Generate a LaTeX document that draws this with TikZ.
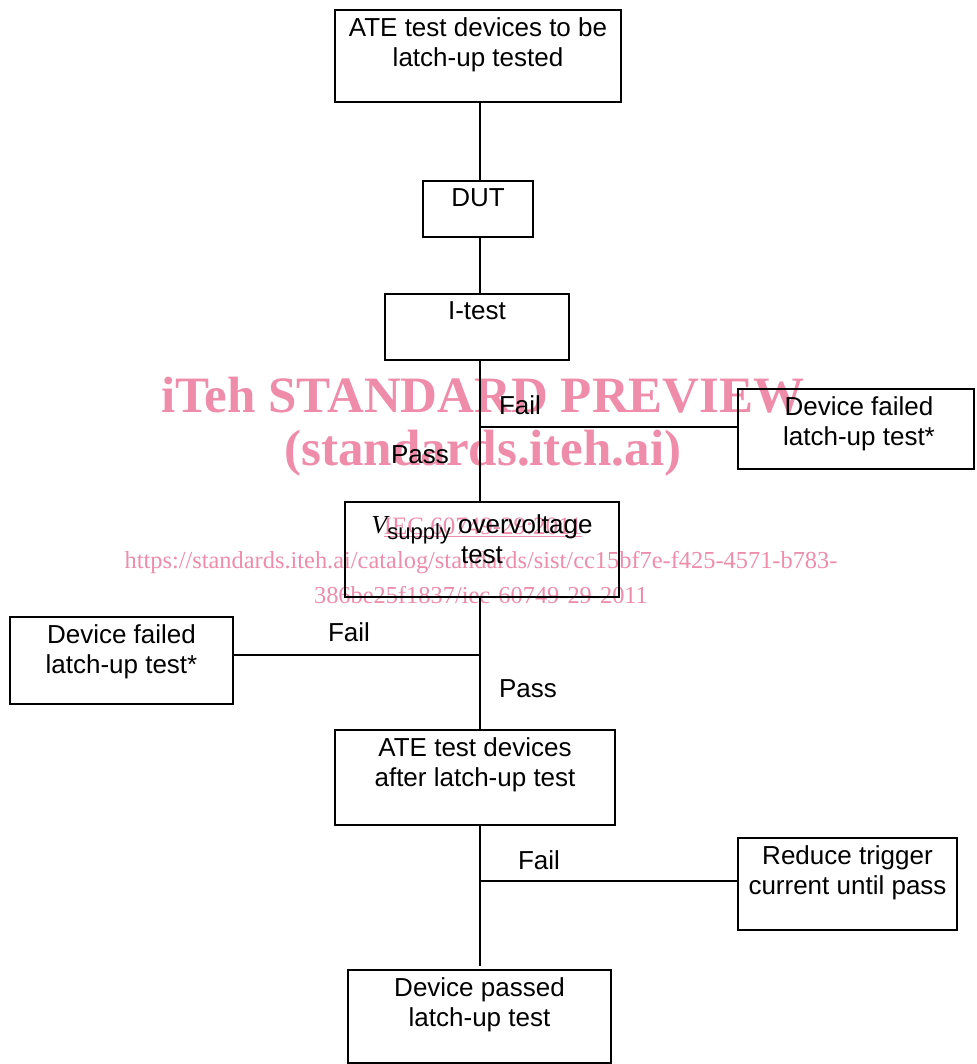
\documentclass[tikz,border=0pt]{standalone}
\usepackage{fontspec}
\setmainfont{Liberation Sans}
\newfontfamily\serifwm{Liberation Serif}
\definecolor{wmpink}{RGB}{238,140,170}
\begin{document}
\begin{tikzpicture}[x=1pt,y=-1pt,
  box/.style={draw,line width=2pt,inner sep=0pt},
  txt/.style={font=\fontsize{26}{30}\selectfont,align=center,inner sep=0pt,anchor=north,yshift=-8.7pt},
  lbl/.style={font=\fontsize{26}{30}\selectfont,inner sep=0pt},
  conn/.style={line width=2pt},
  wm/.style={text=wmpink,inner sep=0pt}]
\useasboundingbox (0,0) rectangle (976,1064);
% watermark
\node[wm,font=\serifwm\bfseries\fontsize{51}{51}\selectfont] (w1) at (483,395) {iTeh STANDARD PREVIEW};
\node[wm,font=\serifwm\bfseries\fontsize{51}{51}\selectfont] (w2) at (483,453) {(standards.iteh.ai)};
\node[wm,font=\serifwm\fontsize{25}{25}\selectfont] (w3) at (483,527) {\underline{IEC 60749-29:2011}};
\node[wm,font=\serifwm\fontsize{24.4}{25}\selectfont] (w4) at (481,563) {https://standards.iteh.ai/catalog/standards/sist/cc15bf7e-f425-4571-b783-};
\node[wm,font=\serifwm\fontsize{24.4}{25}\selectfont] (w5) at (481,595) {386be25f1837/iec-60749-29-2011};
% boxes
\node[box,minimum width=286,minimum height=92] (b1) at (478,56) {};
\node[box,minimum width=110,minimum height=56] (dut) at (478,209) {};
\node[box,minimum width=184,minimum height=66] (it) at (477,327) {};
\node[box,minimum width=236,minimum height=80] (rf) at (856,429) {};
\node[box,minimum width=274,minimum height=95] (vs) at (482,549.5) {};
\node[box,minimum width=223,minimum height=87] (lf) at (121.5,660.5) {};
\node[box,minimum width=280,minimum height=95] (a2) at (475,777.5) {};
\node[box,minimum width=219,minimum height=92] (rd) at (847.5,884) {};
\node[box,minimum width=263,minimum height=93] (ps) at (479.5,1016.5) {};
% texts
\node[txt] (t1) at (b1.north) {ATE test devices to be\\latch-up tested};
\node[txt] (t2) at (dut.north) {DUT};
\node[txt] (t3) at (it.north) {I-test};
\node[txt] (t4) at ([xshift=3pt]rf.north) {Device failed\\latch-up test*};
\node[txt,yshift=-5pt] (t5) at (vs.north) {{\serifwm\itshape V}\raisebox{-6pt}{\fontsize{22}{22}\selectfont supply} overvoltage\\test};
\node[txt] (t6) at (lf.north) {Device failed\\latch-up test*};
\node[txt] (t7) at (a2.north) {ATE test devices\\after latch-up test};
\node[txt] (t8) at (rd.north) {Reduce trigger\\current until pass};
\node[txt] (t9) at (ps.north) {Device passed\\latch-up test};
% connectors
\coordinate (sp) at (480,0);
\coordinate (j1) at (480,427);
\coordinate (j2) at (480,655);
\coordinate (j3) at (480,881);
\draw[conn] (b1.south -| sp) -- (dut.north -| sp);
\draw[conn] (dut.south -| sp) -- (it.north -| sp);
\draw[conn] (it.south -| sp) -- (vs.north -| sp);
\draw[conn] (j1) -- (j1 -| rf.west);
\draw[conn] (vs.south -| sp) -- (a2.north -| sp);
\draw[conn] (j2) -- (j2 -| lf.east);
\draw[conn] (a2.south -| sp) -- ([yshift=3pt]ps.north -| sp);
\draw[conn] (j3) -- (j3 -| rd.west);
% labels
\node[lbl] (f1) at (520,405) {Fail};
\node[lbl] (p1) at (420,455) {Pass};
\node[lbl] (f2) at (349,632) {Fail};
\node[lbl] (p2) at (528,689) {Pass};
\node[lbl] (f3) at (539,860) {Fail};
\end{tikzpicture}
\end{document}
